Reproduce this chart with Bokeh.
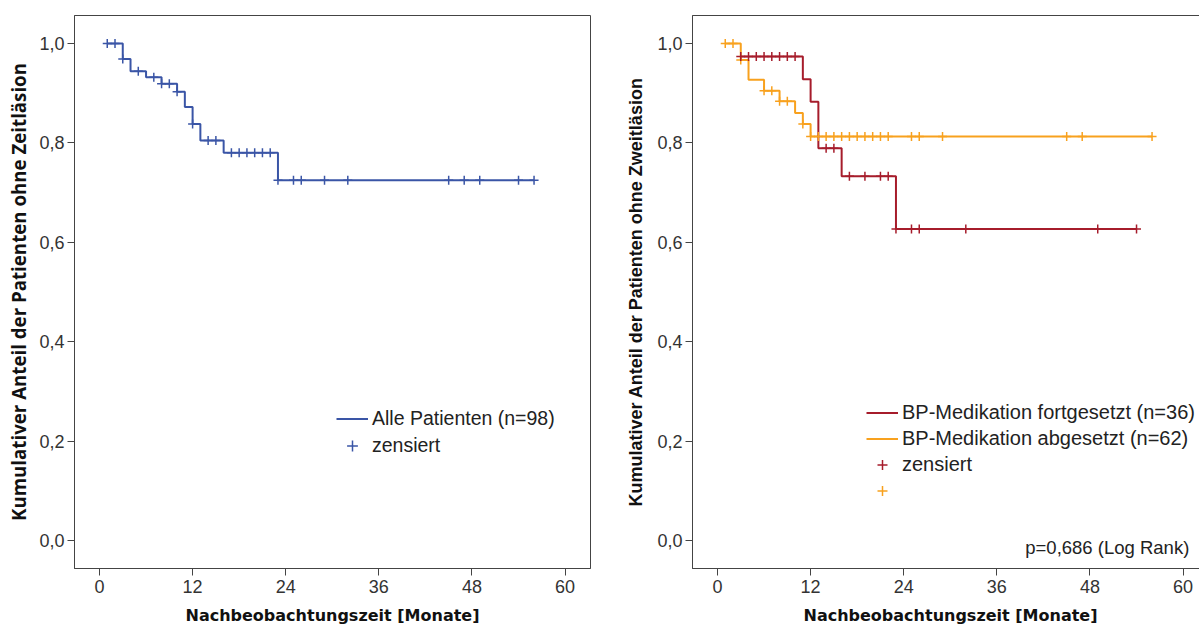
from bokeh.plotting import figure
from bokeh.layouts import row
from bokeh.models import (CustomJSTickFormatter, FixedTicker, Legend, LegendItem,
                          Label, Range1d)
from bokeh.embed import file_html
from bokeh.resources import INLINE
from bokeh.core.properties import value
import numpy as np

# ---------------- data ----------------
x_ticks = [0, 12, 24, 36, 48, 60]
y_ticks = [0.0, 0.2, 0.4, 0.6, 0.8, 1.0]

# All patients (n=98)
all_time = [1, 3, 4, 6, 8, 10, 11, 12, 13, 16, 23, 56]
all_surv = [1.0, 0.969, 0.944, 0.932, 0.919, 0.903, 0.872, 0.838, 0.805, 0.780, 0.725, 0.725]
all_cens = [1, 2, 3, 5, 7, 8, 9, 10, 12, 14, 15, 17, 18, 19, 20, 21, 22, 23,
            25, 26, 29, 32, 45, 47, 49, 54, 56]

# BP medication continued (n=36)
fort_time = [3, 11, 12, 13, 16, 23, 54]
fort_surv = [0.974, 0.928, 0.883, 0.789, 0.733, 0.627, 0.627]
fort_cens = [3, 4, 5, 6, 7, 8, 9, 10, 14, 15, 17, 19, 21, 22, 23, 25, 26, 32, 49, 54]

# BP medication discontinued (n=62)
abg_time = [1, 3, 4, 6, 8, 10, 11, 12, 56]
abg_surv = [1.0, 0.967, 0.927, 0.905, 0.884, 0.860, 0.838, 0.813, 0.813]
abg_cens = [1, 2, 3, 6, 7, 8, 9, 11, 12, 13, 14, 15, 16, 17, 18, 19, 20, 21, 22,
            25, 26, 29, 45, 47, 56]

BLUE = "#3a55a6"
RED = "#a61c2b"
ORANGE = "#f8a11e"
AXIS = "#444444"
TXT = "#333333"
PX_PER_MONTH = 7.76
X_START = -3.22


def level_at(times, surv, ts):
    idx = np.searchsorted(np.asarray(times, float), np.asarray(ts, float), side="right") - 1
    idx = np.clip(idx, 0, len(surv) - 1)
    return [surv[i] for i in idx]


def make_fig(width, border_left, border_right, ylabel, ylabel_font, ylabel_size, standoff):
    x_end = X_START + (width - border_left - border_right) / PX_PER_MONTH
    p = figure(width=width, height=628, output_backend="svg", toolbar_location=None,
               x_range=Range1d(X_START, x_end), y_range=Range1d(-0.0563, 1.0563),
               min_border_left=border_left, min_border_right=border_right,
               min_border_top=15, min_border_bottom=60)
    p.xgrid.visible = False
    p.ygrid.visible = False
    p.outline_line_color = AXIS
    p.outline_line_width = 1
    p.background_fill_color = "white"
    p.border_fill_color = "white"
    p.xaxis.ticker = FixedTicker(ticks=x_ticks)
    p.yaxis.ticker = FixedTicker(ticks=y_ticks)
    p.yaxis.formatter = CustomJSTickFormatter(code="return tick.toFixed(1).replace('.', ',');")
    for ax in (p.xaxis[0], p.yaxis[0]):
        ax.axis_line_color = AXIS
        ax.major_tick_line_color = AXIS
        ax.major_tick_out = 7
        ax.major_tick_in = 0
        ax.minor_tick_line_color = None
        ax.major_label_text_font = "Liberation Sans"
        ax.major_label_text_font_size = "18px"
        ax.major_label_text_color = TXT
        ax.axis_label_text_font_style = "bold"
        ax.axis_label_text_color = "#111111"
    p.xaxis.major_label_standoff = 4
    p.yaxis.major_label_standoff = 3
    p.xaxis.axis_label = "Nachbeobachtungszeit [Monate]"
    p.xaxis.axis_label_text_font = "DejaVu Sans"
    p.xaxis.axis_label_text_font_size = "16px"
    p.xaxis.axis_label_standoff = 10
    p.yaxis.axis_label = ylabel
    p.yaxis.axis_label_text_font = ylabel_font
    p.yaxis.axis_label_text_font_size = ylabel_size
    p.yaxis.axis_label_standoff = standoff
    return p


def style_legend(leg, spacing, gh, fs):
    leg.border_line_color = None
    leg.background_fill_alpha = 0
    leg.padding = 0
    leg.margin = 0
    leg.spacing = spacing
    leg.glyph_width = 32
    leg.glyph_height = gh
    leg.label_height = gh
    leg.label_standoff = 4
    leg.label_text_font = "Liberation Sans"
    leg.label_text_font_size = fs
    leg.label_text_color = "#222222"


# ---------------- left plot ----------------
p1 = make_fig(608, 74, 18, "Kumulativer Anteil der Patienten ohne Zeitläsion",
              "Open Sans", "18.7px", 5)
r1 = p1.step(all_time, all_surv, mode="after", line_color=BLUE, line_width=2)
c1 = p1.scatter(all_cens, level_at(all_time, all_surv, all_cens), marker="cross",
                size=9, line_color=BLUE, line_width=1.5)
leg1 = Legend(items=[LegendItem(label=value("Alle Patienten (n=98)"), renderers=[r1]),
                     LegendItem(label=value("zensiert"), renderers=[c1])],
              location=(262, 109))
style_legend(leg1, 0, 27, "19.5px")
p1.add_layout(leg1)

# ---------------- right plot ----------------
p2 = make_fig(600, 84, 0, "Kumulativer Anteil der Patienten ohne Zweitläsion",
              "Liberation Sans", "18px", 8)
r2a = p2.step(abg_time, abg_surv, mode="after", line_color=ORANGE, line_width=2)
r2f = p2.step(fort_time, fort_surv, mode="after", line_color=RED, line_width=2)
c2a = p2.scatter(abg_cens, level_at(abg_time, abg_surv, abg_cens), marker="cross",
                 size=9, line_color=ORANGE, line_width=1.5)
c2f = p2.scatter(fort_cens, level_at(fort_time, fort_surv, fort_cens), marker="cross",
                 size=9, line_color=RED, line_width=1.5)
leg2 = Legend(items=[LegendItem(label=value("BP-Medikation fortgesetzt (n=36)"), renderers=[r2f]),
                     LegendItem(label=value("BP-Medikation abgesetzt (n=62)"), renderers=[r2a]),
                     LegendItem(label=value("zensiert"), renderers=[c2f]),
                     LegendItem(label=value(" "), renderers=[c2a])],
              location=(174, 65))
style_legend(leg2, 1, 25, "20px")
p2.add_layout(leg2)

p2.add_layout(Label(x=60.8, y=-0.014, text="p=0,686 (Log Rank)", text_align="right",
                    text_baseline="middle", text_font="Liberation Sans",
                    text_font_size="18.5px", text_color="#222222"))

layout = row(p1, p2, spacing=0)
open("out.html", "w").write(file_html(layout, INLINE))
